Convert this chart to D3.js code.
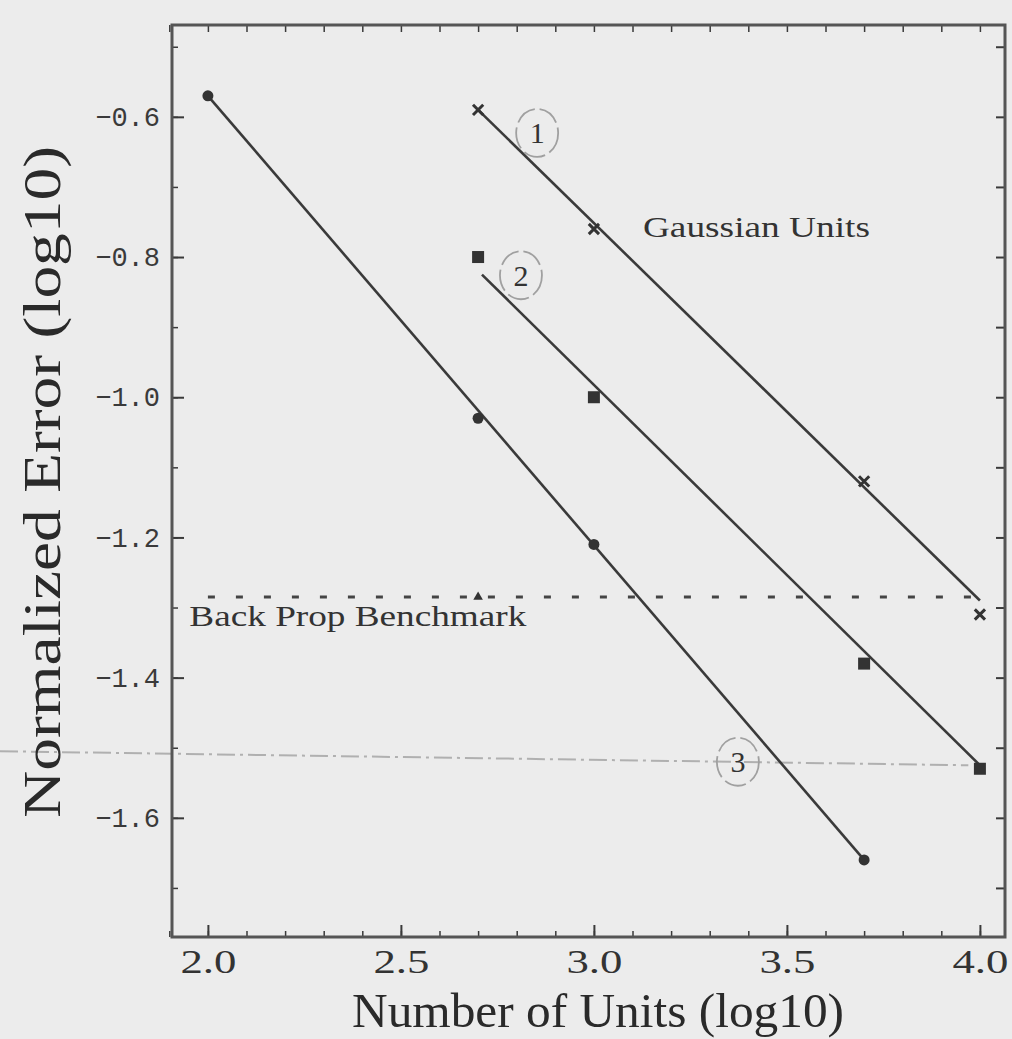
<!DOCTYPE html>
<html>
<head>
<meta charset="utf-8">
<script src="https://cdn.jsdelivr.net/npm/d3@7"></script>
<style>
  body { margin: 0; background: #ececec; }
  svg { display: block; }
</style>
</head>
<body>
<svg id="chart" width="1012" height="1039"></svg>
<script>
// values (log10 units)
const unitsLog = [2.0, 2.7, 3.0, 3.7, 4.0];
const series1 = [[2.7, -0.59], [3.0, -0.76], [3.7, -1.12], [4.0, -1.31]];   // x marks
const series2 = [[2.7, -0.80], [3.0, -1.00], [3.7, -1.38], [4.0, -1.53]];   // squares
const series3 = [[2.0, -0.57], [2.7, -1.03], [3.0, -1.21], [3.7, -1.66]];   // dots
// straight fitted lines drawn through each series
const fit1 = [[2.7, -0.59], [4.0, -1.29]];
const fit2 = [[2.71, -0.825], [4.0, -1.525]];
const fit3 = [[2.0, -0.57], [3.7, -1.66]];
const benchmark = -1.285;
const benchmarkMark = [[2.7, -1.285]];
const faintLine = -1.505;
const xTicks = [2.0, 2.5, 3.0, 3.5, 4.0];
const yTicks = [-0.6, -0.8, -1.0, -1.2, -1.4, -1.6];

let chart = d3.select("#chart");
let m = {left: 172, top: 25, right: 1005, bottom: 937};
let ink = "#3a3a3a";

let x = d3.scaleLinear().domain([1.907, 4.065]).range([m.left, m.right]);
let y = d3.scaleLinear().domain([-0.469, -1.77]).range([m.top, m.bottom]);

// faint dash-dot line showing through the paper
chart.append("line")
    .attr("x1", 0).attr("x2", x(3.97))
    .attr("y1", y(faintLine)).attr("y2", y(faintLine - 0.02))
    .attr("stroke", "#b0b0b0").attr("stroke-width", 2)
    .attr("stroke-dasharray", "18,5,3,5");

// minor tick helpers
let xMinor = d3.range(19, 41).map(d => d / 10);
let yMinor = d3.range(5, 18).map(d => -d / 10);

// bottom axis
let xAxis = d3.axisBottom(x).tickValues(xTicks).tickFormat(d3.format(".1f"))
    .tickSizeInner(-12).tickSizeOuter(0).tickPadding(12);
let gx = chart.append("g").attr("transform", "translate(0," + m.bottom + ")").call(xAxis);
gx.select(".domain").remove();
gx.selectAll("line").attr("stroke", ink).attr("stroke-width", 2);
gx.selectAll("text").attr("font-family", "Liberation Serif").attr("font-size", 34)
    .attr("textLength", 56).attr("lengthAdjust", "spacingAndGlyphs").attr("fill", "#333");
chart.append("g").attr("transform", "translate(0," + m.bottom + ")")
    .call(d3.axisBottom(x).tickValues(xMinor).tickSize(-6).tickFormat(""))
    .call(g => g.select(".domain").remove())
    .selectAll("line").attr("stroke", ink).attr("stroke-width", 1.5);

// top axis (ticks only)
chart.append("g").attr("transform", "translate(0," + m.top + ")")
    .call(d3.axisTop(x).tickValues(xMinor).tickSize(-7).tickFormat(""))
    .call(g => g.select(".domain").remove())
    .selectAll("line").attr("stroke", ink).attr("stroke-width", 1.5);

// left axis
let yAxis = d3.axisLeft(y).tickValues(yTicks).tickFormat(d3.format(".1f"))
    .tickSizeInner(-12).tickSizeOuter(0).tickPadding(12);
let gy = chart.append("g").attr("transform", "translate(" + m.left + ",0)").call(yAxis);
gy.select(".domain").remove();
gy.selectAll("line").attr("stroke", ink).attr("stroke-width", 2);
gy.selectAll("text").attr("font-family", "Liberation Mono").attr("font-size", 27).attr("fill", "#3a3a3a");
chart.append("g").attr("transform", "translate(" + m.left + ",0)")
    .call(d3.axisLeft(y).tickValues(yMinor).tickSize(-6).tickFormat(""))
    .call(g => g.select(".domain").remove())
    .selectAll("line").attr("stroke", ink).attr("stroke-width", 1.5);

// right axis (ticks only)
chart.append("g").attr("transform", "translate(" + m.right + ",0)")
    .call(d3.axisRight(y).tickValues(yMinor).tickSize(-9).tickFormat(""))
    .call(g => g.select(".domain").remove())
    .selectAll("line").attr("stroke", ink).attr("stroke-width", 2);

// frame
chart.append("rect")
    .attr("x", m.left).attr("y", m.top)
    .attr("width", m.right - m.left).attr("height", m.bottom - m.top)
    .attr("fill", "none").attr("stroke", "#555").attr("stroke-width", 3);

// axis labels
chart.append("text")
    .text("Number of Units (log10)")
    .attr("x", 598).attr("y", 1027)
    .attr("text-anchor", "middle")
    .attr("font-family", "Liberation Serif").attr("font-size", 48)
    .attr("textLength", 492).attr("lengthAdjust", "spacingAndGlyphs")
    .attr("fill", "#2a2a2a");

chart.append("text")
    .text("Normalized Error (log10)")
    .attr("transform", "translate(60,482) rotate(-90)")
    .attr("text-anchor", "middle")
    .attr("font-family", "Liberation Serif").attr("font-size", 52)
    .attr("textLength", 672).attr("lengthAdjust", "spacingAndGlyphs")
    .attr("fill", "#2a2a2a");

// benchmark dotted line
chart.append("line")
    .attr("x1", x(2.0)).attr("x2", x(4.03))
    .attr("y1", y(benchmark)).attr("y2", y(benchmark))
    .attr("stroke", "#444").attr("stroke-width", 3)
    .attr("stroke-dasharray", "7,21");
chart.selectAll(".bm").data(benchmarkMark).enter()
    .append("path")
    .attr("d", d3.symbol(d3.symbolTriangle, 40))
    .attr("transform", d => "translate(" + x(d[0]) + "," + y(d[1]) + ")")
    .attr("fill", "#333");

// fitted lines
let line = d3.line().x(d => x(d[0])).y(d => y(d[1]));
[fit1, fit2, fit3].forEach(f => {
    chart.append("path").datum(f)
        .attr("d", line)
        .attr("fill", "none").attr("stroke", ink).attr("stroke-width", 2.6);
});

// markers
chart.selectAll(".s1").data(series1).enter()
    .append("path")
    .attr("d", d3.symbol(d3.symbolX, 70))
    .attr("transform", d => "translate(" + x(d[0]) + "," + y(d[1]) + ")")
    .attr("stroke", "#333").attr("stroke-width", 3).attr("fill", "none");

chart.selectAll(".s2").data(series2).enter()
    .append("rect")
    .attr("x", d => x(d[0]) - 6).attr("y", d => y(d[1]) - 6)
    .attr("width", 12).attr("height", 12)
    .attr("fill", "#333");

chart.selectAll(".s3").data(series3).enter()
    .append("circle")
    .attr("cx", d => x(d[0])).attr("cy", d => y(d[1]))
    .attr("r", 5.5)
    .attr("fill", "#333");

// annotations
chart.append("text")
    .text("Gaussian Units")
    .attr("x", x(3.127)).attr("y", y(-0.772))
    .attr("font-family", "Liberation Serif").attr("font-size", 30)
    .attr("textLength", 227).attr("lengthAdjust", "spacingAndGlyphs")
    .attr("fill", "#333");

chart.append("text")
    .text("Back Prop Benchmark")
    .attr("x", x(1.952)).attr("y", y(-1.326))
    .attr("font-family", "Liberation Serif").attr("font-size", 30)
    .attr("textLength", 337).attr("lengthAdjust", "spacingAndGlyphs")
    .attr("fill", "#333");

let circled = [["1", 2.853, -0.623], ["2", 2.811, -0.826], ["3", 3.373, -1.52]];
let cg = chart.selectAll(".lab").data(circled).enter()
    .append("g")
    .attr("transform", d => "translate(" + x(d[1]) + "," + y(d[2]) + ")");
cg.append("ellipse")
    .attr("rx", 21).attr("ry", 24)
    .attr("fill", "none").attr("stroke", "#a0a0a0").attr("stroke-width", 1.8)
    .attr("stroke-dasharray", "22,5");
cg.append("text")
    .text(d => d[0])
    .attr("text-anchor", "middle").attr("dy", "0.35em")
    .attr("font-family", "Liberation Serif").attr("font-size", 30)
    .attr("fill", "#333");
</script>
</body>
</html>
